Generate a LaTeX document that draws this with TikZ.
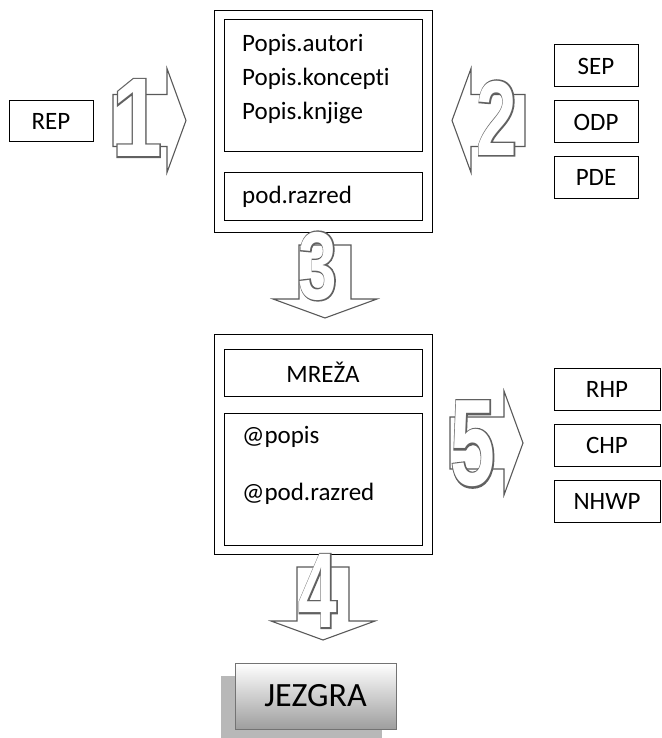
\documentclass[tikz,border=0pt]{standalone}
\usepackage{fontspec}
\setmainfont{Carlito}[Ligatures=NoCommon]
\newfontfamily\numfont{Liberation Sans}
\newfontfamily\numrim{Liberation Sans}[FakeBold=3]
\usetikzlibrary{shapes,arrows,positioning,shadows,calc}

\begin{document}
\begin{tikzpicture}[x=1pt, y=1pt,
    box/.style={draw, line width=1pt, inner sep=0pt, font=\fontsize{25}{30}\selectfont},
    txt/.style={inner sep=0pt, font=\fontsize{25}{30}\selectfont},
    rim/.style={inner sep=0pt, text=black!62, font=\numrim\bfseries\fontsize{112}{112}\selectfont},
    num/.style={inner sep=0pt, text=white, font=\numfont\bfseries\fontsize{112}{112}\selectfont},
    blockarrow/.pic={
        \draw[line width=1.1pt, draw=black!65, fill=white]
            (0,26) -- (54,26) -- (54,52) -- (73,0) -- (54,-52) -- (54,-26) -- (0,-26) -- cycle;
    }
]
    \useasboundingbox (0,0) rectangle (661,-738);

    % gornji blok
    \node[box, minimum width=218, minimum height=221] (top) at (323,-121.5) {};
    \node[box, minimum width=198, minimum height=132] (popisi) at (323,-86) {};
    \node[box, minimum width=198, minimum height=47] (podraz) at (323,-196.5) {};
    \node[txt, anchor=base west] (autori) at (242,-52) {Popis.autori};
    \node[txt, anchor=base west] (koncepti) at (242,-86) {Popis.koncepti};
    \node[txt, anchor=base west] (knjige) at (242,-120) {Popis.knjige};
    \node[txt, anchor=base west] (podtxt) at (242,-203) {pod.razred};

    % izvori
    \node[box, minimum width=84, minimum height=41] (rep) at (51,-121.5) {REP};
    \node[box, minimum width=84, minimum height=42] (sep) at (596,-66) {SEP};
    \node[box, minimum width=84, minimum height=42] (odp) at (596,-122) {ODP};
    \node[box, minimum width=84, minimum height=41] (pde) at (596,-177.5) {PDE};

    % srednji blok
    \node[box, minimum width=218, minimum height=220] (mid) at (323,-444) {};
    \node[box, minimum width=198, minimum height=47] (mreza) at (323,-372.5) {MREŽA};
    \node[box, minimum width=198, minimum height=132] (atbox) at (323,-479) {};
    \node[txt, anchor=base west] (atpopis) at (242,-443) {@popis};
    \node[txt, anchor=base west] (atpod) at (242,-500) {@pod.razred};

    \node[box, minimum width=106, minimum height=42] (rhp) at (607,-389) {RHP};
    \node[box, minimum width=106, minimum height=42] (chp) at (607,-445) {CHP};
    \node[box, minimum width=106, minimum height=42] (nhwp) at (607,-501) {NHWP};

    % strelice
    \pic at (113,-120.5) {blockarrow};
    \pic[rotate=180] at (525,-120.5) {blockarrow};
    \pic[rotate=-90] at (325,-245) {blockarrow};
    \pic[rotate=-90] at (323,-567) {blockarrow};
    \pic at (450,-443) {blockarrow};

    \foreach \d/\x/\y/\sx/\sy in {1/137/-118/0.8/1, 2/497/-118/0.65/0.95, 3/318/-266/0.62/0.86,
                                 4/318/-591/0.62/0.95, 5/473/-444/0.72/1.1} {
        \node[rim] (r\d) at (\x,\y) {\scalebox{\sx}[\sy]{\d}};
        \node[num] (n\d) at (\x,\y) {\scalebox{\sx}[\sy]{\d}};
    }

    \node[box, draw=black!55, minimum width=161, minimum height=66, top color=white, bottom color=black!38,
        drop shadow={shadow xshift=-14pt, shadow yshift=-13pt, fill=black!28, opacity=1},
        font=\fontsize{34}{40}\selectfont] (jezgra) at (315.5,-696) {JEZGRA};
\end{tikzpicture}
\end{document}
